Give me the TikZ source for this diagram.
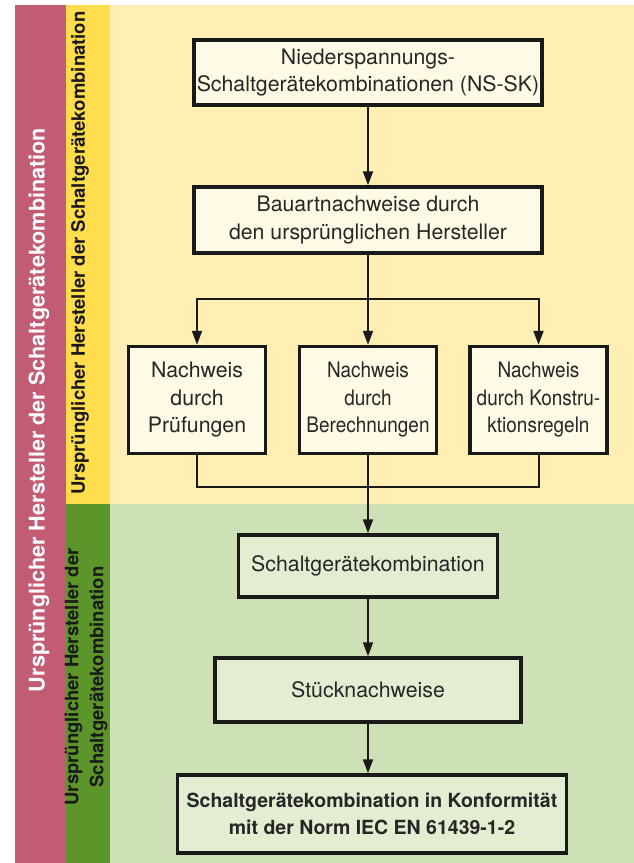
\documentclass[tikz,border=0pt]{standalone}
\usepackage{fontspec}
\setmainfont{TeX Gyre Heros}
\newfontfamily\schmal{TeX Gyre Heros}[FakeStretch=0.89]
\usetikzlibrary{arrows.meta}
\definecolor{rosa}{HTML}{C25B74}
\definecolor{gelb}{HTML}{FFDD4D}
\definecolor{hellgelb}{HTML}{FFEFB3}
\definecolor{gruen}{HTML}{5C952A}
\definecolor{hellgruen}{HTML}{CEE0B5}
\definecolor{kastengelb}{HTML}{FFFAE6}
\definecolor{kastengruen}{HTML}{E2EDD2}
\begin{document}
\begin{tikzpicture}[x=1pt, y=-1pt,
  kasten/.style={draw=black!90, line width=3.5pt, fill=kastengelb, align=center, inner sep=0pt,
    font=\fontsize{21.3}{27.5}\selectfont, text=black!85},
  gkasten/.style={kasten, fill=kastengruen},
  pfeil/.style={line width=2pt, draw=black!90, -{Triangle[width=10pt,length=14pt]}},
  linie/.style={line width=2pt, draw=black!90},
  balken/.style={rotate=90, align=center, font=\bfseries\fontsize{18.5}{25}\selectfont}]
\useasboundingbox (0,0) rectangle (634,863);
\fill[white] (0,0) rectangle (634,863);
\fill[rosa] (15,5) rectangle (66,863);
\fill[gelb] (66,5) rectangle (110,504);
\fill[hellgelb] (110,5) rectangle (634,504);
\fill[gruen] (66,504) rectangle (110,863);
\fill[hellgruen] (110,504) rectangle (634,863);
\node[balken, text=white, font=\bfseries\fontsize{21.6}{25}\selectfont] (rosatext) at (39,410) {Ursprünglicher Hersteller der Schaltgerätekombination};
\node[balken, text=black!90] (gelbtext) at (80,253) {Ursprünglicher Hersteller der Schaltgerätekombination};
\node[balken, text=black!90] (gruentext) at (86,677) {Ursprünglicher Hersteller der\\Schaltgerätekombination};
\node[kasten, minimum width=348, minimum height=65] (ns) at (368,72.5) {Niederspannungs-\\Schaltgerätekombinationen (NS-SK)};
\node[kasten, minimum width=348, minimum height=66] (bau) at (368,220) {Bauartnachweise durch\\den ursprünglichen Hersteller};
\node[kasten, minimum width=137, minimum height=107] (pruef) at (197,400) {Nachweis\\durch\\Prüfungen};
\node[kasten, minimum width=137, minimum height=107, font=\schmal\fontsize{21.3}{27.5}\selectfont] (ber) at (368,400) {Nachweis\\durch\\Berechnungen};
\node[kasten, minimum width=137, minimum height=107, font=\schmal\fontsize{21.3}{27.5}\selectfont] (konst) at (538.5,400) {Nachweis\\durch Konstru-\\ktionsregeln};
\node[gkasten, minimum width=259, minimum height=62] (sgk) at (368,566) {Schaltgerätekombination};
\node[gkasten, minimum width=306, minimum height=64] (stueck) at (368,690) {Stücknachweise};
\node[gkasten, minimum width=389, minimum height=78, font=\bfseries\fontsize{19.5}{27.5}\selectfont] (konf) at (372,814) {Schaltgerätekombination in Konformität\\mit der Norm IEC EN 61439-1-2};
\coordinate (gabel) at (368,299);
\coordinate (sammel) at (368,487);
\draw[pfeil] (ns) -- (bau);
\draw[pfeil] (bau) -- (ber);
\draw[pfeil] (gabel) -| (pruef.north);
\draw[pfeil] (gabel) -| (konst.north);
\draw[linie] (pruef.south) |- (sammel) -| (konst.south);
\draw[pfeil] (ber) -- (sgk);
\draw[pfeil] (sgk) -- (stueck);
\draw[pfeil] (stueck) -- (stueck |- konf.north);
\end{tikzpicture}
\end{document}
